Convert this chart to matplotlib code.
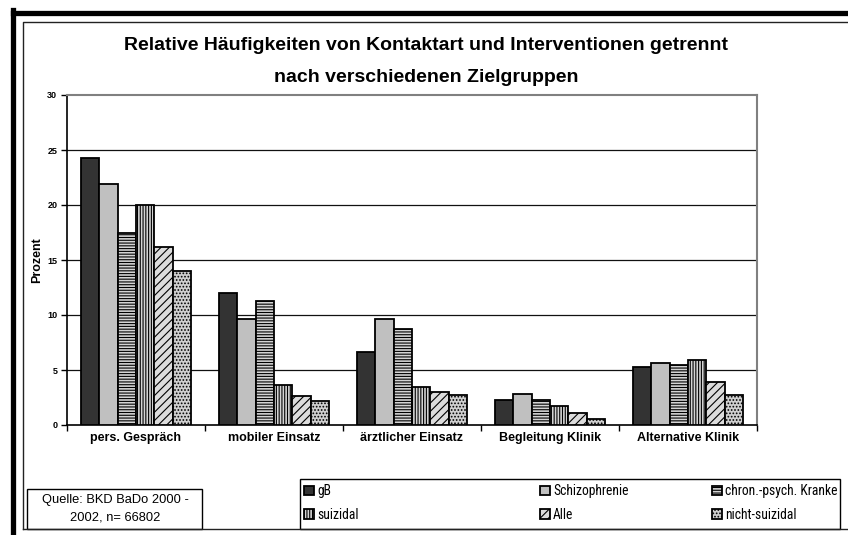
import matplotlib
matplotlib.use("Agg")
import matplotlib.pyplot as plt
from matplotlib.patches import Rectangle
from matplotlib.lines import Line2D
from matplotlib import font_manager
import numpy as np

plt.rcParams['font.family'] = ['Liberation Sans', 'DejaVu Sans']
plt.rcParams['hatch.linewidth'] = 0.8

categories = ['pers. Gespräch', 'mobiler Einsatz', 'ärztlicher Einsatz',
              'Begleitung Klinik', 'Alternative Klinik']
series_names = ['gB', 'Schizophrenie', 'chron.-psych. Kranke', 'suizidal', 'Alle', 'nicht-suizidal']
gB = [24.3, 12.0, 6.6, 2.25, 5.25]
schizophrenie = [21.9, 9.6, 9.6, 2.85, 5.6]
chron = [17.5, 11.3, 8.7, 2.3, 5.5]
suizidal = [20.0, 3.6, 3.5, 1.75, 5.9]
alle = [16.15, 2.6, 3.0, 1.05, 3.95]
nicht_suizidal = [14.0, 2.15, 2.7, 0.55, 2.75]
values = [gB, schizophrenie, chron, suizidal, alle, nicht_suizidal]
yticks = [0, 5, 10, 15, 20, 25, 30]

styles = [
    dict(facecolor='#333333', hatch=None),
    dict(facecolor='#c0c0c0', hatch=None),
    dict(facecolor='#d4d4d4', hatch='------'),
    dict(facecolor='#d4d4d4', hatch='||||||'),
    dict(facecolor='#dcdcdc', hatch='////'),
    dict(facecolor='#cfcfcf', hatch='.....'),
]


def find_narrow():
    prefs = ['liberation sans narrow', 'arial narrow', 'roboto condensed',
             'noto sans condensed', 'open sans condensed']
    found = {}
    for f in font_manager.fontManager.ttflist:
        nm = f.name.lower()
        st = str(f.stretch).lower()
        cond = ('narrow' in nm or 'condensed' in nm or 'condensed' in st
                or (isinstance(f.stretch, int) and f.stretch < 500))
        if not cond or f.style != 'normal':
            continue
        if f.weight not in ('normal', 'regular', 400, 'book'):
            continue
        if 'semi' in st or 'extra' in st or 'ultra' in st:
            continue
        key = nm if ('narrow' in nm or 'condensed' in nm) else nm + ' condensed'
        found.setdefault(key, f.fname)
    for p in prefs:
        if p in found:
            return found[p]
    return None


narrow_path = find_narrow()
if narrow_path:
    legend_font = font_manager.FontProperties(fname=narrow_path, size=9.8)
else:
    legend_font = font_manager.FontProperties(family='Liberation Sans', size=8.6)

W, H = 848, 535
fig = plt.figure(figsize=(W / 100, H / 100), dpi=100)
fig.patch.set_facecolor('white')

# outer frames
fig.add_artist(Line2D([13 / W, 13 / W], [0, 1 - 10 / H], transform=fig.transFigure,
                      color='black', lw=3.8, solid_capstyle='projecting'))
fig.add_artist(Line2D([13 / W, 1], [1 - 12.5 / H, 1 - 12.5 / H], transform=fig.transFigure,
                      color='black', lw=3.8, solid_capstyle='projecting'))
fig.add_artist(Line2D([23 / W, 23 / W, 1], [1 - 529 / H, 1 - 22 / H, 1 - 22 / H],
                      transform=fig.transFigure, color='#222222', lw=1.0))
fig.add_artist(Line2D([23 / W, 1], [1 - 529 / H, 1 - 529 / H],
                      transform=fig.transFigure, color='#222222', lw=1.0))

ax = fig.add_axes([67 / W, 1 - 425 / H, (757 - 67) / W, (425 - 95) / H])
n = len(series_names)
bw = 1.0 / (n + 1.5)
x = np.arange(len(categories))
for i, (name, vals) in enumerate(zip(series_names, values)):
    off = (i - (n - 1) / 2) * bw
    ax.bar(x + off, vals, width=bw, edgecolor='black', linewidth=1.3,
           label=name, zorder=3, **styles[i])

ax.set_xlim(-0.5, len(categories) - 0.5)
ax.set_ylim(0, 30)
ax.set_yticks(yticks)
ax.set_yticklabels([str(t) for t in yticks], fontsize=6.5, fontweight='bold')
for t in yticks[1:-1]:
    ax.axhline(t, color='#111111', lw=0.9, zorder=1)
ax.set_xticks(np.arange(len(categories) + 1) - 0.5)
ax.set_xticklabels([])
ax.set_xticks(x, minor=True)
ax.set_xticklabels(categories, minor=True, fontsize=9, fontweight='bold')
ax.tick_params(axis='x', which='minor', length=0, pad=5)
ax.tick_params(axis='x', which='major', length=4, width=1, direction='out')
ax.tick_params(axis='y', length=4, width=1, direction='out', pad=3)
for s in ['top', 'right']:
    ax.spines[s].set_color('#808080')
    ax.spines[s].set_linewidth(1.5)
for s in ['left', 'bottom']:
    ax.spines[s].set_color('black')
    ax.spines[s].set_linewidth(1.2)
ax.set_ylabel('Prozent', fontsize=9, fontweight='bold')
ax.yaxis.set_label_coords(-0.035, 0.5)

fig.text(0.5 * (123 + 730) / W, 1 - 46 / H,
         'Relative Häufigkeiten von Kontaktart und Interventionen getrennt',
         ha='center', va='center', fontsize=14, fontweight='bold')
fig.text(0.5 * (123 + 730) / W, 1 - 77 / H,
         'nach verschiedenen Zielgruppen',
         ha='center', va='center', fontsize=14, fontweight='bold')

# source box
fig.add_artist(Rectangle((27 / W, 1 - 529 / H), (202 - 27) / W, (529 - 489) / H,
                         transform=fig.transFigure, fill=False, edgecolor='black', lw=1.0))
fig.text(115 / W, 1 - 500 / H, 'Quelle: BKD BaDo 2000 -', ha='center', va='center', fontsize=9.3)
fig.text(115 / W, 1 - 518 / H, '2002, n= 66802', ha='center', va='center', fontsize=9.3)

# legend: frame + three columns
fig.add_artist(Rectangle((300 / W, 1 - 529 / H), (840 - 300) / W, (529 - 479) / H,
                         transform=fig.transFigure, fill=False, edgecolor='black', lw=1.0))
handles, labels = ax.get_legend_handles_labels()
col_x = [304, 540, 712]
fs_px = legend_font.get_size_in_points() * 100 / 72
for c in range(3):
    idx = [c, c + 3]
    leg = fig.legend([handles[i] for i in idx], [labels[i] for i in idx],
                     loc='center left', bbox_to_anchor=(col_x[c] / W, 1 - 503 / H),
                     borderaxespad=0, borderpad=0, prop=legend_font,
                     handlelength=10 / fs_px, handleheight=10 / fs_px,
                     handletextpad=3 / fs_px,
                     labelspacing=max(0.05, (22 - 0.92 * fs_px) / fs_px), frameon=False)

fig.savefig('out.png', dpi=100)
